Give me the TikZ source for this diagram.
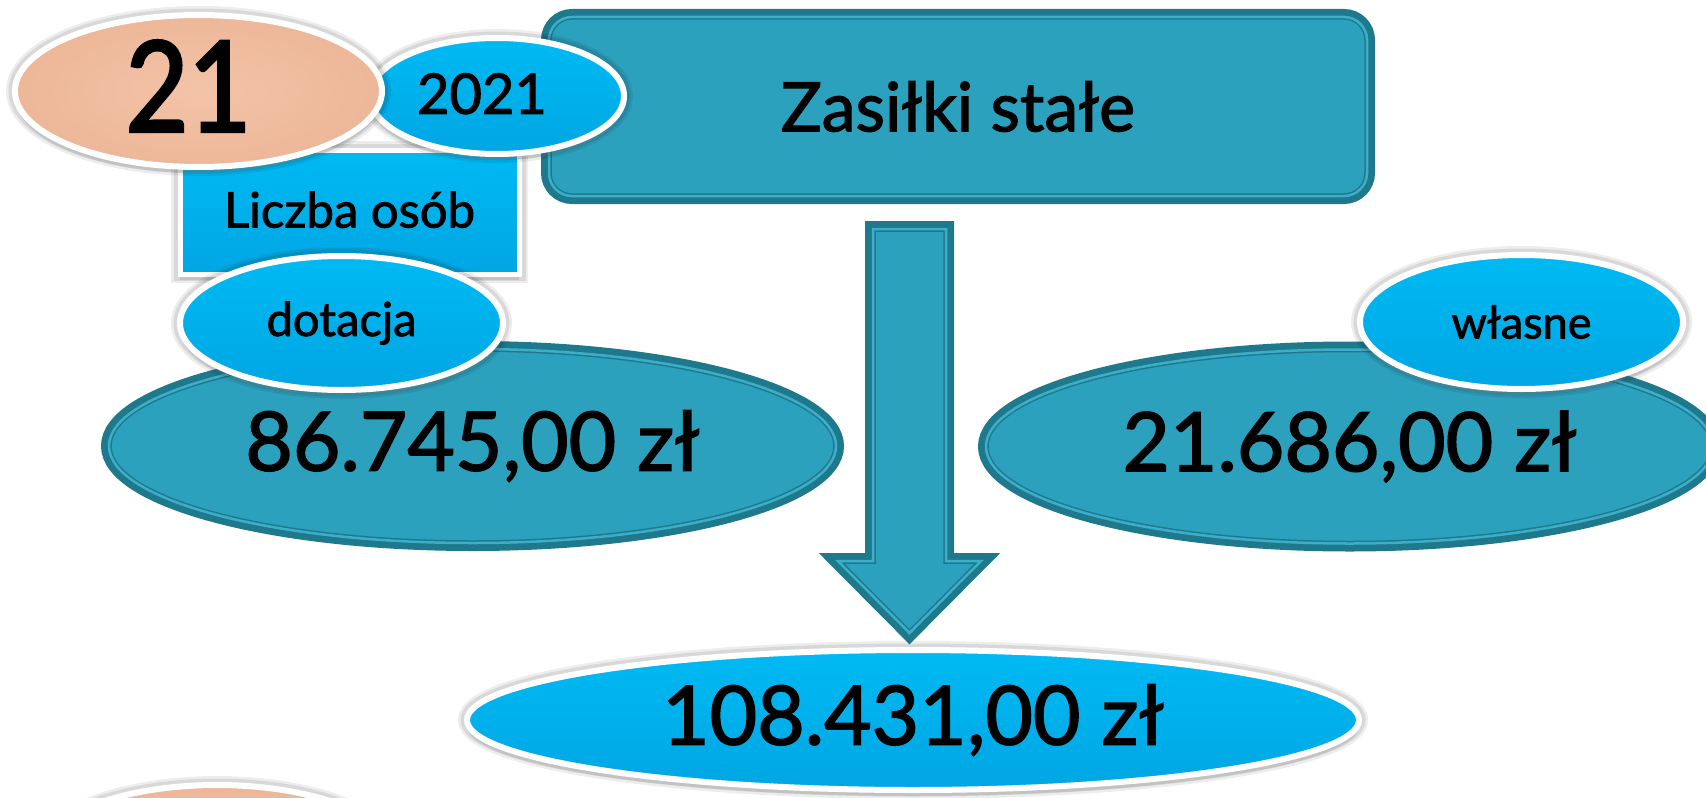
\documentclass[tikz,border=0pt]{standalone}
\usepackage{fontspec}
\setmainfont{Lato}[FakeBold=1.8]
\newfontfamily\narrowfont{Lato}[FakeBold=2.4, FakeStretch=0.86]
\usetikzlibrary{shapes.geometric,shadows}
\definecolor{tealfill}{RGB}{44,161,190}
\definecolor{tealdark}{RGB}{31,121,140}
\definecolor{teallight}{RGB}{60,174,202}
\definecolor{bluetop}{RGB}{0,186,243}
\definecolor{bluebot}{RGB}{0,166,227}
\definecolor{salmon}{RGB}{243,195,168}
\definecolor{salmondark}{RGB}{237,183,152}
\begin{document}
\begin{tikzpicture}[x=0.5pt, y=-0.5pt,
    tealshape/.style={fill=tealfill, draw=tealdark, line width=0.75pt,
      double=teallight, double distance=1.25pt,
      preaction={draw=tealdark, line width=8pt}},
    halo/.style={preaction={draw=black, draw opacity=0.07, line width=9pt},
      preaction={draw=black, draw opacity=0.09, line width=6.5pt},
      drop shadow={opacity=0.25, shadow xshift=0pt, shadow yshift=-3pt}},
    whiteshape/.style={halo, draw=white, line width=3pt, inner sep=0pt,
      top color=bluetop, bottom color=bluebot},
    salmonshape/.style={halo, draw=white, line width=3pt, inner sep=0pt, ellipse,
      inner color=salmon, outer color=salmondark},
    bigsum/.style={font=\fontsize{41pt}{49pt}\selectfont}]
  \clip (0,0) rectangle (1706,797);
  % title and block arrow
  \node[tealshape, rounded corners=11.5pt, inner sep=0pt,
        minimum width=409pt, minimum height=89.5pt,
        font=\fontsize{34pt}{40pt}\selectfont] (title) at (958,106.5) {Zasiłki stałe};
  \draw[tealshape] (873,229) -- (946,229) -- (946,561) -- (981,561)
    -- (909.5,633) -- (838,561) -- (873,561) -- cycle;
  % sums
  \node[tealshape, ellipse, inner sep=0pt, minimum width=363.5pt,
        minimum height=97pt, bigsum] (grant) at (472.5,446) {86.745,00 zł};
  \node[tealshape, ellipse, inner sep=0pt, minimum width=363.5pt,
        minimum height=97pt, bigsum] (own) at (1349.5,446.5) {21.686,00 zł};
  \node[whiteshape, ellipse, minimum width=446pt, minimum height=70pt,
        bigsum] (total) at (913,720) {108.431,00 zł};
  % labels
  \node[whiteshape, rectangle, line width=2.5pt, minimum width=169.5pt,
        minimum height=62pt, font=\fontsize{24.5pt}{29pt}\selectfont]
        (people) at (349.5,212) {\raisebox{2.5pt}{Liczba osób}};
  \node[whiteshape, ellipse, minimum width=127pt, minimum height=58pt,
        font=\fontsize{28pt}{33pt}\selectfont]
        (year) at (497,96) {\hspace*{-15pt}\raisebox{2.5pt}{2021}};
  \node[salmonshape, minimum width=183.5pt, minimum height=76pt,
        font=\narrowfont\fontsize{63pt}{72pt}\selectfont]
        (count) at (198.5,91) {\hspace*{-10pt}\raisebox{5pt}{21}};
  \node[whiteshape, ellipse, minimum width=161.5pt, minimum height=67pt,
        font=\fontsize{23.5pt}{28pt}\selectfont] (grantlbl) at (341.5,323) {dotacja};
  \node[whiteshape, ellipse, minimum width=161.5pt, minimum height=67pt,
        font=\fontsize{22.5pt}{27pt}\selectfont] (ownlbl) at (1521.5,322) {własne};
  \node[salmonshape, minimum width=183.5pt, minimum height=76pt] (nextcount) at (217,861) {};
\end{tikzpicture}
\end{document}
